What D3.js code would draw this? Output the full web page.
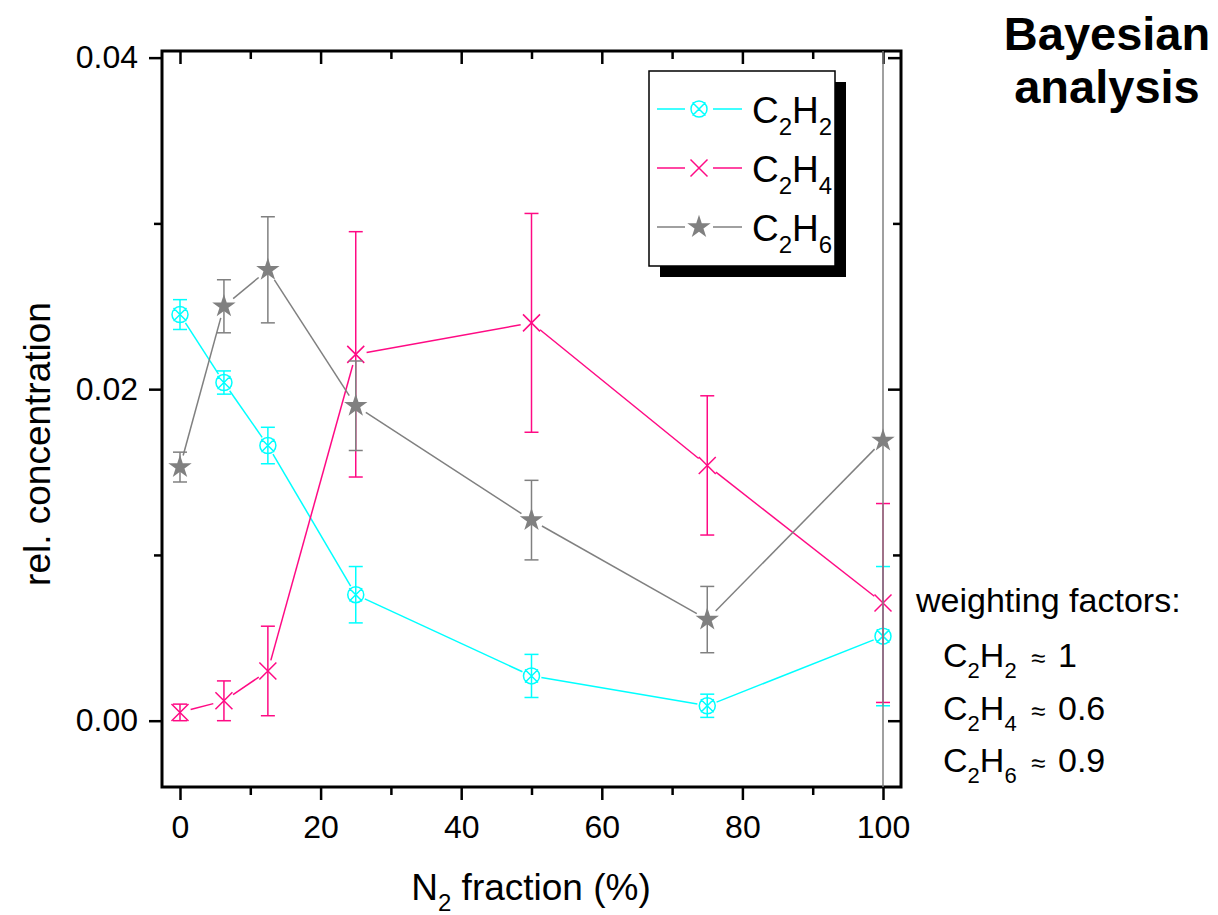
<!DOCTYPE html>
<html><head><meta charset="utf-8">
<script src="https://cdn.jsdelivr.net/npm/d3@7/dist/d3.min.js"></script>
<style>
body{margin:0;background:#fff;}
svg{display:block;font-family:"Liberation Sans",Arial,Helvetica,sans-serif;}
</style></head>
<body>
<svg id="chart" width="1218" height="915"></svg>
<script>
// ---- data ----
const xVals = [0, 6.25, 12.5, 25, 50, 75, 100];
const c2h2 = [0.0245, 0.0204, 0.0166, 0.0076, 0.0027, 0.0009, 0.0051];
const c2h2Err = [0.0009, 0.0007, 0.0011, 0.0017, 0.0013, 0.0007, 0.0042];
const c2h4 = [0.0005, 0.0012, 0.0030, 0.0221, 0.0240, 0.0154, 0.0071];
const c2h4Err = [0.0005, 0.0012, 0.0027, 0.0074, 0.0066, 0.0042, 0.0060];
const c2h6 = [0.0153, 0.0250, 0.0272, 0.0190, 0.0121, 0.0061, 0.0169];
const c2h6Err = [0.0009, 0.0016, 0.0032, 0.0027, 0.0024, 0.0020, 0.0600];
const xMajorTicks = [0, 20, 40, 60, 80, 100];
const xMinorTicks = [10, 30, 50, 70, 90];
const yMajorTicks = [0.00, 0.02, 0.04];
const yMinorTicks = [0.01, 0.03];
const seriesNames = [["C","2","H","2"],["C","2","H","4"],["C","2","H","6"]];
const weights = ["1", "0.6", "0.9"];

// ---- layout ----
const svg = d3.select("#chart");
const L = 162, R = 901, T = 51, B = 787;
const x = d3.scaleLinear().domain([-2.56, 102.56]).range([L, R]);
const y = d3.scaleLinear().domain([-0.004, 0.0404]).range([B, T]);

const colors = {c2h2: "#00ffff", c2h4: "#ff0a84", c2h6: "#808080"};

svg.append("defs").append("clipPath").attr("id","plotclip")
  .append("rect").attr("x", L).attr("y", T).attr("width", R - L).attr("height", B - T);

// axes
function styleAxis(g, fontSize) {
  g.select(".domain").remove();
  g.selectAll("line").attr("stroke", "#000").attr("stroke-width", 2.5);
  g.selectAll("text").attr("font-size", fontSize).attr("fill", "#000")
    .attr("font-family", '"Liberation Sans",Arial,sans-serif');
}
const xAxisMaj = svg.append("g").attr("transform", `translate(0,${B})`)
  .call(d3.axisBottom(x).tickValues(xMajorTicks).tickSize(13).tickPadding(15).tickFormat(d3.format("d")));
styleAxis(xAxisMaj, 32);
const xAxisMin = svg.append("g").attr("transform", `translate(0,${B})`)
  .call(d3.axisBottom(x).tickValues(xMinorTicks).tickSize(8).tickFormat(""));
styleAxis(xAxisMin, 32);
const xTopMaj = svg.append("g").attr("transform", `translate(0,${T})`)
  .call(d3.axisTop(x).tickValues(xMajorTicks).tickSize(-13).tickFormat(""));
styleAxis(xTopMaj, 32);
const xTopMin = svg.append("g").attr("transform", `translate(0,${T})`)
  .call(d3.axisTop(x).tickValues(xMinorTicks).tickSize(-8).tickFormat(""));
styleAxis(xTopMin, 32);

const yAxisMaj = svg.append("g").attr("transform", `translate(${L},0)`)
  .call(d3.axisLeft(y).tickValues(yMajorTicks).tickSize(13).tickPadding(11).tickFormat(d3.format(".2f")));
styleAxis(yAxisMaj, 32);
const yAxisMin = svg.append("g").attr("transform", `translate(${L},0)`)
  .call(d3.axisLeft(y).tickValues(yMinorTicks).tickSize(8).tickFormat(""));
styleAxis(yAxisMin, 32);
const yRMaj = svg.append("g").attr("transform", `translate(${R},0)`)
  .call(d3.axisRight(y).tickValues(yMajorTicks).tickSize(-13).tickFormat(""));
styleAxis(yRMaj, 32);
const yRMin = svg.append("g").attr("transform", `translate(${R},0)`)
  .call(d3.axisRight(y).tickValues(yMinorTicks).tickSize(-8).tickFormat(""));
styleAxis(yRMin, 32);

// frame
svg.append("rect").attr("x", L).attr("y", T).attr("width", R - L).attr("height", B - T)
  .attr("fill", "none").attr("stroke", "#000").attr("stroke-width", 3);

// markers
function markerPath(kind) {
  if (kind === "x") return "M-8.5,-8.5L8.5,8.5M-8.5,8.5L8.5,-8.5";
  if (kind === "cx") return "M-6.5,-6.5L6.5,6.5M-6.5,6.5L6.5,-6.5M8,0A8,8 0 1 1 -8,0A8,8 0 1 1 8,0Z";
  return d3.symbol().type(d3.symbolStar).size(170)();
}

const plot = svg.append("g").attr("clip-path", "url(#plotclip)");

function drawSeries(vals, errs, color, kind, gap) {
  const g = plot.append("g");
  const pts = xVals.map((xv, i) => [x(xv), y(vals[i])]);
  // connecting segments with gaps at markers
  for (let i = 0; i < pts.length - 1; i++) {
    const [x1, y1] = pts[i], [x2, y2] = pts[i + 1];
    const dx = x2 - x1, dy = y2 - y1, len = Math.hypot(dx, dy);
    if (len <= 2 * gap) continue;
    const ux = dx / len, uy = dy / len;
    g.append("line")
      .attr("x1", x1 + ux * gap).attr("y1", y1 + uy * gap)
      .attr("x2", x2 - ux * gap).attr("y2", y2 - uy * gap)
      .attr("stroke", color).attr("stroke-width", 1.5);
  }
  // error bars
  xVals.forEach((xv, i) => {
    const cx = x(xv), yl = y(vals[i] - errs[i]), yh = y(vals[i] + errs[i]);
    g.append("line").attr("x1", cx).attr("x2", cx).attr("y1", yl).attr("y2", yh)
      .attr("stroke", color).attr("stroke-width", 1.5);
    [yl, yh].forEach(yy => g.append("line").attr("x1", cx - 7).attr("x2", cx + 7)
      .attr("y1", yy).attr("y2", yy).attr("stroke", color).attr("stroke-width", 1.5));
  });
  // markers
  xVals.forEach((xv, i) => {
    const p = g.append("path").attr("d", markerPath(kind))
      .attr("transform", `translate(${x(xv)},${y(vals[i])})`);
    if (kind === "star") p.attr("fill", color).attr("stroke", "none");
    else p.attr("fill", "none").attr("stroke", color).attr("stroke-width", 1.5);
  });
}
drawSeries(c2h2, c2h2Err, colors.c2h2, "cx", 10);
drawSeries(c2h4, c2h4Err, colors.c2h4, "x", 11);
drawSeries(c2h6, c2h6Err, colors.c2h6, "star", 12);

// legend
const lg = svg.append("g");
lg.append("rect").attr("x", 660).attr("y", 82).attr("width", 186).attr("height", 195).attr("fill", "#000");
lg.append("rect").attr("x", 649).attr("y", 71).attr("width", 186).attr("height", 195)
  .attr("fill", "#fff").attr("stroke", "#000").attr("stroke-width", 1.5);
const legendItems = [[colors.c2h2, "cx"], [colors.c2h4, "x"], [colors.c2h6, "star"]];
const rowY = [109, 168, 227];
legendItems.forEach(([col, kind], i) => {
  const ry = rowY[i];
  lg.append("line").attr("x1", 657).attr("x2", 685).attr("y1", ry).attr("y2", ry).attr("stroke", col).attr("stroke-width", 1.5);
  lg.append("line").attr("x1", 713).attr("x2", 742).attr("y1", ry).attr("y2", ry).attr("stroke", col).attr("stroke-width", 1.5);
  const p = lg.append("path").attr("d", markerPath(kind)).attr("transform", `translate(699,${ry})`);
  if (kind === "star") p.attr("fill", col); else p.attr("fill", "none").attr("stroke", col).attr("stroke-width", 1.5);
  const t = lg.append("text").attr("x", 752).attr("y", ry + 14).attr("font-size", 37).attr("fill", "#000");
  const parts = seriesNames[i];
  t.append("tspan").text(parts[0]);
  t.append("tspan").attr("font-size", 24).attr("dy", 12).text(parts[1]);
  t.append("tspan").attr("dy", -12).text(parts[2]);
  t.append("tspan").attr("font-size", 24).attr("dy", 12).text(parts[3]);
});

// axis titles
const xt = svg.append("text").attr("x", 531).attr("y", 900).attr("text-anchor", "middle")
  .attr("font-size", 37).attr("fill", "#000");
xt.append("tspan").text("N");
xt.append("tspan").attr("font-size", 24).attr("dy", 11).text("2");
xt.append("tspan").attr("dy", -11).text(" fraction (%)");

svg.append("text").attr("transform", "translate(50,444) rotate(-90)").attr("text-anchor", "middle")
  .attr("font-size", 37).attr("fill", "#000").text("rel. concentration");

// title
svg.append("text").attr("x", 1107).attr("y", 50).attr("text-anchor", "middle")
  .attr("font-size", 47).attr("font-weight", "bold").attr("fill", "#000").text("Bayesian");
svg.append("text").attr("x", 1107).attr("y", 103).attr("text-anchor", "middle")
  .attr("font-size", 47).attr("font-weight", "bold").attr("fill", "#000").text("analysis");

// weighting factors
svg.append("text").attr("x", 916).attr("y", 612).attr("font-size", 34).attr("fill", "#000").text("weighting factors:");
const wy = [667, 720, 772];
seriesNames.forEach((parts, i) => {
  const t = svg.append("text").attr("x", 943).attr("y", wy[i]).attr("font-size", 34).attr("fill", "#000");
  t.append("tspan").text(parts[0]);
  t.append("tspan").attr("font-size", 22).attr("dy", 11).text(parts[1]);
  t.append("tspan").attr("dy", -11).text(parts[2]);
  t.append("tspan").attr("font-size", 22).attr("dy", 11).text(parts[3]);
  t.append("tspan").attr("dy", -11).attr("font-size", 26).attr("x", 1031).text("≈");
  t.append("tspan").attr("font-size", 34).attr("x", 1058).text(weights[i]);
});
</script>
</body></html>
